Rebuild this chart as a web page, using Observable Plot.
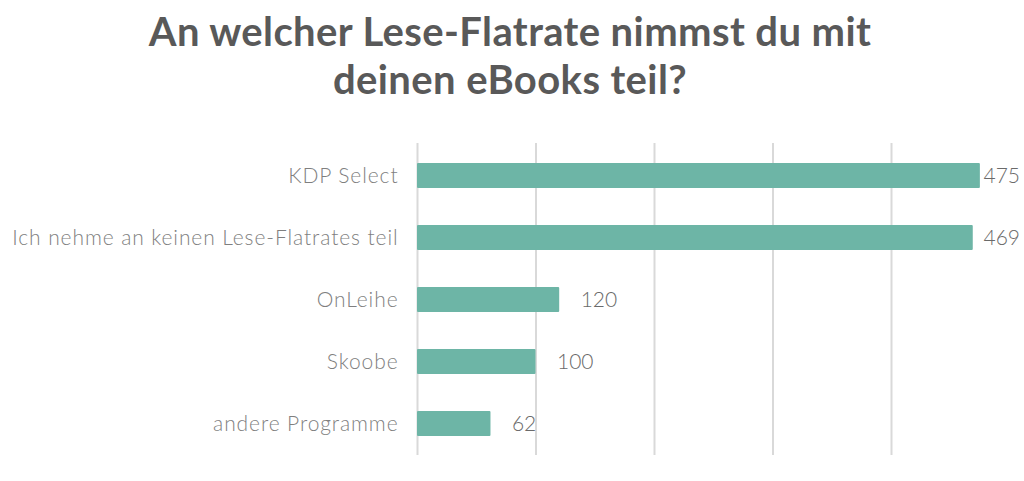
<!DOCTYPE html>
<html>
<head>
<meta charset="utf-8">
<script src="https://cdn.jsdelivr.net/npm/d3@7"></script>
<script src="https://cdn.jsdelivr.net/npm/@observablehq/plot@0.6"></script>
<style>
  html, body { margin: 0; padding: 0; background: #fff; }
  #wrap { width: 1024px; height: 481px; position: relative; overflow: hidden; }
  #title { height: 120px; box-sizing: border-box; padding-top: 7px; text-align: center;
    font-family: Lato, "Noto Sans", sans-serif; font-weight: 700; font-size: 40px; line-height: 48px;
    color: #595959; letter-spacing: 0.4px; padding-right: 4px; }
  #chart svg { display: block; }
</style>
</head>
<body>
<div id="wrap">
  <div id="title">An welcher Lese-Flatrate nimmst du mit<br>deinen eBooks teil?</div>
  <div id="chart"></div>
</div>
<script>
const categories = ["KDP Select", "Ich nehme an keinen Lese-Flatrates teil", "OnLeihe", "Skoobe", "andere Programme"];
const values = [475, 469, 120, 100, 62];
const gridTicks = [0, 100, 200, 300, 400];

const data = categories.map((c, i) => ({category: c, value: values[i]}));

const plot = Plot.plot({
  width: 1024,
  height: 361,
  marginLeft: 417,
  marginRight: 14.5,
  marginTop: 23,
  marginBottom: 26,
  style: {fontFamily: "Lato, 'Noto Sans', sans-serif", background: "#fff"},
  x: {domain: [0, 500], axis: null},
  y: {domain: categories, paddingInner: 0.6, paddingOuter: 0.3, label: null, axis: null},
  marks: [
    Plot.ruleX(gridTicks, {stroke: "#d9d9d9", strokeWidth: 2}),
    Plot.barX(data, {x: "value", y: "category", fill: "#6db5a6", rx: 1}),
    Plot.text(data, {
      x: d => Math.min(d.value + 17.7, 477.6),
      y: "category",
      text: d => String(d.value),
      textAnchor: "start",
      fill: "#6a6a6a",
      fontSize: 21,
      fontWeight: 300,
      letterSpacing: 0.5
    }),
    Plot.axisY({tickSize: 0, tickPadding: 19, fontSize: 21, fontWeight: 300, color: "#7f7f7f", label: null})
  ]
});
plot.querySelectorAll("[aria-label='y-axis tick label']").forEach(el => el.setAttribute("letter-spacing", "0.9"));
document.getElementById("chart").appendChild(plot);
</script>
</body>
</html>
